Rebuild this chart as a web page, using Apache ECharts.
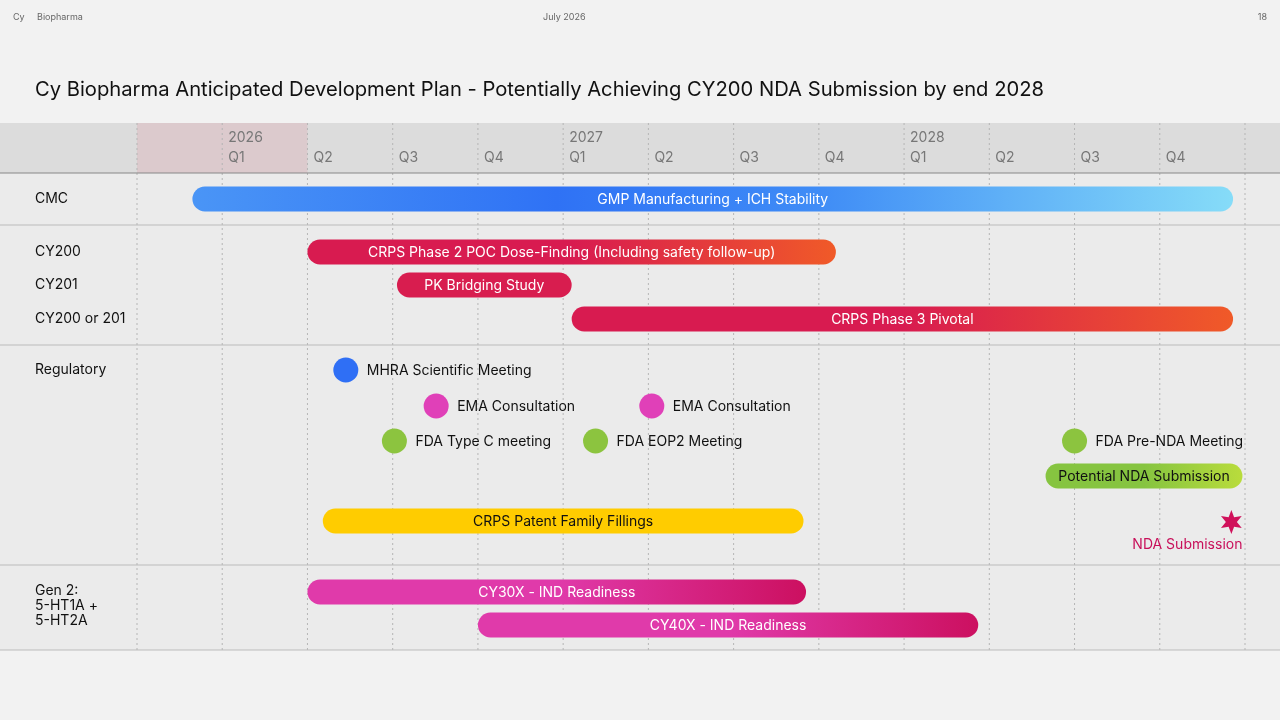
<!DOCTYPE html>
<html><head><meta charset="utf-8">
<script src="https://cdn.jsdelivr.net/npm/echarts@6/dist/echarts.min.js"></script>
<style>html,body{margin:0;padding:0;background:#f2f2f2}#c{width:1280px;height:720px}</style>
</head><body><div id="c"></div>
<script>
// x in quarters from 2025 Q4 start (0) ; 1 = 2026 Q1
var quarterLabels = ['Q1','Q2','Q3','Q4','Q1','Q2','Q3','Q4','Q1','Q2','Q3','Q4'];
var yearLabels = {1:'2026',5:'2027',9:'2028'};
var rowNames = ['CMC','CY200','CY201','CY200 or 201','Regulatory','Gen 2:\n5-HT1A +\n5-HT2A'];
var barNames = ['GMP Manufacturing + ICH Stability','CRPS Phase 2 POC Dose-Finding (Including safety follow-up)','PK Bridging Study','CRPS Phase 3 Pivotal','Potential NDA Submission','CRPS Patent Family Fillings','CY30X - IND Readiness','CY40X - IND Readiness'];
var barStart = [0.65, 2.0, 3.05, 5.1, 10.66, 2.18, 2.0, 4.0];
var barEnd   = [12.86, 8.2, 5.1, 12.86, 12.97, 7.82, 7.85, 9.87];
var barRow   = [76, 129, 162, 196, 353, 398, 469, 502];
var barColA  = ['#3b86f5','#d81b50','#d81d4f','#d81b50','#86c440','#ffcc00','#e03aaa','#e03aaa'];
var barColB  = ['#86dcf8','#f05a28','#d81d4f','#f05a28','#b9dc3c','#ffcc00','#cc1060','#cc1060'];
var barText  = ['#fff','#fff','#fff','#fff','#111','#111','#fff','#fff'];
var dotNames = ['MHRA Scientific Meeting','EMA Consultation','EMA Consultation','FDA Type C meeting','FDA EOP2 Meeting','FDA Pre-NDA Meeting'];
var dotX     = [2.45, 3.51, 6.04, 3.02, 5.38, 11.0];
var dotRow   = [247, 283, 283, 318, 318, 318];
var dotCol   = ['#2f6ff5','#e040b8','#e040b8','#8cc43f','#8cc43f','#8cc43f'];
var starX = 12.84, starRow = 399;
var separators = [50, 102, 222, 442, 527];

var F = 'Inter, "Noto Sans", sans-serif';
var chart = echarts.init(document.getElementById('c'));

function starPath(cx, cy, r1, r2, n){
  var p = [];
  for (var i=0;i<2*n;i++){var r=i%2?r2:r1;var a=Math.PI*i/n - Math.PI/2;p.push([cx+r*Math.cos(a), cy+r*Math.sin(a)]);}
  return p;
}

var leftLabelY = [191, 244, 277, 311, 362, 583];
var graphics = [
  {type:'text', left:13, top:13, style:{text:'Cy', font:'9px '+F, fill:'#666'}},
  {type:'text', left:37, top:13, style:{text:'Biopharma', font:'9px '+F, fill:'#666'}},
  {type:'text', left:543, top:13, style:{text:'July 2026', font:'9px '+F, fill:'#666'}},
  {type:'text', right:13, top:13, style:{text:'18', font:'9px '+F, fill:'#666'}},
  {type:'text', left:35, top:80, style:{text:'Cy Biopharma Anticipated Development Plan - Potentially Achieving CY200 NDA Submission by end 2028', font:'20.2px '+F, fill:'#111'}}
];
rowNames.forEach(function(n,i){
  graphics.push({type:'text', left:35, top:leftLabelY[i], z:10, style:{text:n, font:'14px '+F, fill:'#111', lineHeight:15}});
});

chart.setOption({
  backgroundColor:'#f2f2f2',
  animation:false,
  graphic: graphics,
  grid:{left:137, right:35, top:123, bottom:70, show:false},
  xAxis:{type:'value', min:0, max:13, interval:1, show:false},
  yAxis:{type:'value', min:0, max:527, inverse:true, show:false},
  series:[
    {type:'custom', silent:true, data:[[0]], clip:false, z:1,
     renderItem:function(params, api){
       var a=api.coord([0,0]), b=api.coord([13,50]), p=api.coord([2,50]), z=api.coord([0,527]);
       var ch=[{type:'rect', shape:{x:0,y:a[1],width:1280,height:z[1]-a[1]}, style:{fill:'#ebebeb'}},
               {type:'rect', shape:{x:0,y:a[1],width:1280,height:b[1]-a[1]}, style:{fill:'#dcdcdc'}},
               {type:'rect', shape:{x:a[0],y:a[1],width:p[0]-a[0],height:b[1]-a[1]}, style:{fill:'#dccacd'}}];
       for (var i=0;i<=13;i++){
         var t=api.coord([i,0]), bt=api.coord([i,527]);
         ch.push({type:'line', shape:{x1:t[0],y1:t[1],x2:bt[0],y2:bt[1]}, style:{stroke:'#b5b5b5', lineWidth:1, lineDash:[2,3]}});
       }
       separators.forEach(function(s,k){
         var q=api.coord([0,s]);
         ch.push({type:'line', shape:{x1:0,y1:q[1],x2:1280,y2:q[1]}, style:{stroke:k==0?'#888':'#bbb', lineWidth:1}});
       });
       quarterLabels.forEach(function(l,i){
         var q=api.coord([i+1,35]);
         ch.push({type:'text', x:q[0]+6, y:q[1], style:{text:l, font:'14px '+F, fill:'#777', verticalAlign:'middle'}});
         if (yearLabels[i+1]) { var y=api.coord([i+1,15]); ch.push({type:'text', x:y[0]+6, y:y[1], style:{text:yearLabels[i+1], font:'14px '+F, fill:'#777', verticalAlign:'middle'}}); }
       });
       return {type:'group', children:ch};
     }},
    {type:'custom', silent:true, z:3, clip:false,
     data: barNames.map(function(n,i){return [barStart[i], barEnd[i], barRow[i], i];}),
     renderItem:function(params, api){
       var i=api.value(3);
       var s=api.coord([api.value(0), api.value(2)]), e=api.coord([api.value(1), api.value(2)]);
       var h=25;
       var stops = i==0 ? [{offset:0,color:'#4a95f6'},{offset:0.35,color:'#2f72f5'},{offset:0.6,color:'#3f8cf6'},{offset:1,color:'#86dcf8'}]
                        : [{offset:0,color:barColA[i]},{offset:0.5,color:barColA[i]},{offset:1,color:barColB[i]}];
       return {type:'group', children:[
         {type:'rect', shape:{x:s[0], y:s[1]-h/2, width:e[0]-s[0], height:h, r:h/2},
          style:{fill:new echarts.graphic.LinearGradient(0,0,1,0,stops)}},
         {type:'text', x:(s[0]+e[0])/2, y:s[1]+1, style:{text:barNames[i], font:'14px '+F, fill:barText[i], align:'center', verticalAlign:'middle'}}
       ]};
     }},
    {type:'custom', silent:true, z:3, clip:false,
     data: dotNames.map(function(n,i){return [dotX[i], dotRow[i], i];}),
     renderItem:function(params, api){
       var i=api.value(2), c=api.coord([api.value(0), api.value(1)]);
       return {type:'group', children:[
         {type:'circle', shape:{cx:c[0], cy:c[1], r:12.5}, style:{fill:dotCol[i]}},
         {type:'text', x:c[0]+21, y:c[1]+1, style:{text:dotNames[i], font:'14px '+F, fill:'#111', verticalAlign:'middle'}}
       ]};
     }},
    {type:'custom', silent:true, z:3, clip:false, data:[[starX, starRow]],
     renderItem:function(params, api){
       var c=api.coord([api.value(0), api.value(1)]);
       var e=api.coord([barEnd[4], api.value(1)]);
       return {type:'group', children:[
         {type:'polygon', shape:{points:starPath(c[0], c[1], 12, 5.5, 6)}, style:{fill:'#d0105a'}},
         {type:'text', x:e[0], y:c[1]+23, style:{text:'NDA Submission', font:'14px '+F, fill:'#c8105a', align:'right', verticalAlign:'middle'}}
       ]};
     }}
  ]
});
</script></body></html>
